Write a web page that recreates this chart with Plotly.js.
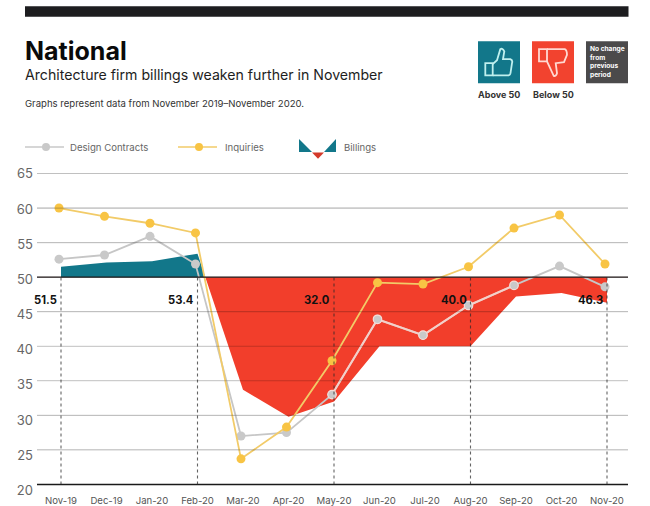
<!DOCTYPE html>
<html>
<head>
<meta charset="utf-8">
<script src="https://cdn.plot.ly/plotly-3.0.1.min.js"></script>
<style>html,body{margin:0;padding:0;background:#fff}#c{width:650px;height:506px}</style>
</head>
<body>
<div id="c"></div>
<script>
const months = ['Nov-19','Dec-19','Jan-20','Feb-20','Mar-20','Apr-20','May-20','Jun-20','Jul-20','Aug-20','Sep-20','Oct-20','Nov-20'];
const billings = [51.5,52.1,52.3,53.4,33.7,29.8,32.0,40.0,40.0,40.0,47.2,47.7,46.3];
const inquiries = [60.0,58.8,57.8,56.4,23.7,28.3,37.9,49.2,49.0,51.5,57.1,59.0,51.9];
const designContracts = [52.6,53.2,55.9,51.9,27.0,27.5,33.0,43.9,41.6,45.9,48.8,51.6,48.6];
const yTicks = [20,25,30,35,40,45,50,55,60,65];
const calloutMonths = ['Nov-19','Feb-20','May-20','Aug-20','Nov-20'];

const W=650,H=506,L=37,R=628,T=170,B=493.5;
const px=x=>(x-L)/(R-L), py=y=>(B-y)/(B-T);
const idx=months.map((_,i)=>i);
const FONT='Inter, "Liberation Sans", sans-serif';
// pixel-to-value of the plot axis and of the slightly drifting tick-label axis
const mainAt=p=>50+(277.3-p)/6.92, labelAt=p=>60+(209-p)/7.05;

// split billings at the 50 line
const crossX=3+(billings[3]-50)/(billings[3]-billings[4]);
const aboveX=[0,1,2,3,crossX], aboveY=[...billings.slice(0,4),50];
const belowX=[crossX,...idx.slice(4)], belowY=[50,...billings.slice(4)];
const flat=a=>a.map(()=>50);

const traces=[
 {x:aboveX,y:flat(aboveX),mode:'lines',line:{width:0},showlegend:false,hoverinfo:'skip'},
 {x:aboveX,y:aboveY,mode:'lines',fill:'tonexty',fillcolor:'#12778a',line:{width:0},showlegend:false,name:'Billings'},
 {x:belowX,y:flat(belowX),mode:'lines',line:{width:0},showlegend:false,hoverinfo:'skip'},
 {x:belowX,y:belowY,mode:'lines',fill:'tonexty',fillcolor:'#f23e2b',line:{width:0},showlegend:false,name:'Billings'},
 {x:idx,y:designContracts,xaxis:'x2',mode:'lines+markers',name:'Design Contracts',showlegend:false,
  line:{color:'#c6c6c6',width:1.8},marker:{color:'#c9c9c9',size:9}},
 {x:idx.slice(6,11),y:designContracts.slice(6,11),xaxis:'x2',mode:'lines+markers',showlegend:false,hoverinfo:'skip',
  line:{color:'#f5cfc8',width:2},marker:{color:'#c9c9c9',size:8.5,line:{color:'#f5dcd6',width:1.2}}},
 {x:idx,y:inquiries,xaxis:'x2',mode:'lines+markers',name:'Inquiries',showlegend:false,
  line:{color:'#f2cb68',width:1.8},marker:{color:'#f8c444',size:9}}
];

const shapes=[];
const rect=(x0,y0,x1,y1,fill)=>shapes.push({type:'rect',xref:'paper',yref:'paper',x0:px(x0),x1:px(x1),y0:py(y0),y1:py(y1),fillcolor:fill,line:{width:0}});
const pathOf=(s,ox,oy)=>s.replace(/(-?[\d.]+),(-?[\d.]+)/g,(m,a,b)=>px(ox+ +a)+','+py(oy+ +b));
const poly=(pts,fill)=>shapes.push({type:'path',xref:'paper',yref:'paper',path:'M'+pts.map(p=>px(p[0])+','+py(p[1])).join(' L')+' Z',fillcolor:fill,line:{width:0}});
const hline=(x0,x1,y,color,w)=>shapes.push({type:'line',xref:'paper',yref:'paper',x0:px(x0),x1:px(x1),y0:py(y),y1:py(y),line:{color,width:w}});
const dot=(cx,cy,r,fill)=>shapes.push({type:'circle',xref:'paper',yref:'paper',x0:px(cx-r),x1:px(cx+r),y0:py(cy-r),y1:py(cy+r),fillcolor:fill,line:{width:0}});

// header bar
rect(25,6,628.5,16.5,'#1d1d1f');
// gridline tint that also darkens the red area
yTicks.filter(v=>v!==20&&v!==50).forEach(v=>shapes.push({type:'line',xref:'paper',yref:'y',x0:0,x1:1,y0:v,y1:v,layer:'above',line:{color:'rgba(0,0,0,0.2)',width:1.2}}));
// 50 line and baseline
shapes.push({type:'line',xref:'paper',yref:'y',x0:0,x1:1,y0:50,y1:50,line:{color:'#1c1414',width:1.3}});
shapes.push({type:'line',xref:'paper',yref:'y',x0:0,x1:1,y0:20,y1:20,line:{color:'#1a1a1a',width:1.5}});
// dashed callouts
calloutMonths.forEach(m=>{const i=months.indexOf(m);
 shapes.push({type:'line',xref:'x',yref:'y',x0:i,x1:i,y0:20,y1:50,line:{color:'rgba(40,40,40,0.72)',width:1.1,dash:'3px,3px'}});});
// legend glyphs
hline(25,64,147,'#c9c9c9',1.5); dot(46,147,4,'#c9c9c9');
hline(178,217,147,'#f2cb68',1.5); dot(199,147,4,'#f8c444');
poly([[299,139],[299,152],[312,152]],'#12778a');
poly([[336,139],[336,152],[324,152]],'#12778a');
poly([[312,152.5],[324,152.5],[318,158.7]],'#d43a2b');
// key boxes
rect(478,41,520,83,'#12778a');
rect(532,41,574,83,'#f2432f');
rect(586,41,628,83,'#4b4a4b');
const iconLine={color:'#bff0ee',width:1.8};
shapes.push({type:'path',xref:'paper',yref:'paper',line:iconLine,path:pathOf('M7.3,22 L14.7,22 L14.7,34.3 L7.3,34.3 Z',478,41)});
shapes.push({type:'path',xref:'paper',yref:'paper',line:iconLine,path:pathOf('M14.7,23 L19,19 L22.3,8 Q24.5,6.5 26.3,10.3 L25,18 L32.3,18 Q35,19 34,22 L32.5,32 Q32,34.3 30,34.3 L14.7,34.3',478,41)});
const downLine={color:'#ffd9d2',width:1.8};
shapes.push({type:'path',xref:'paper',yref:'paper',line:downLine,path:pathOf('M7,8 L15,8 L15,20.3 L7,20.3 Z',532,41)});
shapes.push({type:'path',xref:'paper',yref:'paper',line:downLine,path:pathOf('M15,8 L32.7,8 Q35,9 35,13.7 L32,21 L23.7,22 L25,32 Q24,35.5 21.7,34.7 L15,20.3',532,41)});

const ann=(text,x,y,size,color,opts={})=>Object.assign({text,xref:'paper',yref:'paper',x:px(x),y:py(y),xanchor:'left',yanchor:'middle',showarrow:false,align:'left',borderpad:0,
  font:{family:FONT,size,color}},opts);
const annotations=[
 ann('Architecture firm billings weaken further in November',24,74.5,14.15,'#1e1e1e'),
 ann('Graphs represent data from November 2019–November 2020.',24,103,9.55,'#333'),
 ann('Design Contracts',69,147.5,9.6,'#666'),
 ann('Inquiries',224,147.5,9.6,'#666'),
 ann('Billings',343,147.5,9.6,'#666'),
 ann('<b>Above 50</b>',499,94,9,'#333',{xanchor:'center'}),
 ann('<b>Below 50</b>',553,94,9,'#333',{xanchor:'center'}),
 ann('<b>No change<br>from<br>previous<br>period</b>',588.5,62,6.6,'#fff')
];
calloutMonths.forEach(m=>{const i=months.indexOf(m);
 annotations.push({text:'<b>'+billings[i].toFixed(1)+'</b>',xref:'x',yref:'y',x:i,y:46.7,xanchor:'right',yanchor:'middle',xshift:-3,showarrow:false,borderpad:0,
  font:{family:FONT,size:11.2,color:'#111'}});});

const mainLo=-(61-L)/45.5, mainHi=12+(R-607)/45.5;
const lineLo=-(59-L)/45.5, lineHi=12+(R-605)/45.5;
const layout={
 width:W,height:H,paper_bgcolor:'#fff',plot_bgcolor:'#fff',showlegend:false,
 margin:{l:L,r:W-R,t:T,b:H-B,pad:0},
 title:{text:'<b>National</b>',x:25/W,y:1-51/H,xref:'container',yref:'container',xanchor:'left',yanchor:'middle',font:{family:FONT,size:25,color:'#0a0a0a'}},
 xaxis:{range:[mainLo,mainHi],tickmode:'array',tickvals:idx,ticktext:months,showgrid:false,zeroline:false,showline:false,ticks:'',
  tickfont:{family:FONT,size:9.6,color:'#555'},ticklabelstandoff:0},
 xaxis2:{range:[lineLo,lineHi],overlaying:'x',anchor:'y',visible:false},
 yaxis:{range:[mainAt(B),mainAt(T)],tickmode:'array',tickvals:yTicks,showticklabels:false,showgrid:true,gridcolor:'#f0f0f0',gridwidth:1.2,zeroline:false,showline:false,ticks:''},
 yaxis2:{range:[labelAt(B),labelAt(T)],overlaying:'y',anchor:'x',side:'left',tickmode:'array',tickvals:yTicks,showgrid:false,zeroline:false,showline:false,ticks:'',
  tickfont:{family:FONT,size:13,color:'#666'},ticklabelstandoff:3},
 shapes,annotations
};
traces.push({x:[0],y:[50],yaxis:'y2',mode:'markers',marker:{opacity:0},showlegend:false,hoverinfo:'skip'});
Plotly.newPlot('c',traces,layout,{displayModeBar:false,staticPlot:true});
</script>
</body>
</html>
